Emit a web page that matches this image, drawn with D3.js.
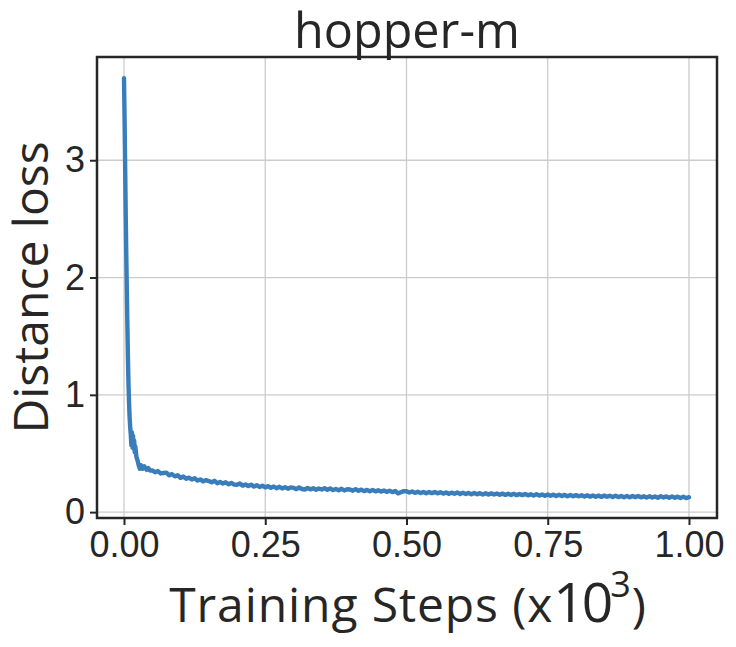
<!DOCTYPE html>
<html><head><meta charset="utf-8">
<script src="https://cdn.jsdelivr.net/npm/d3@7"></script>
<style>body{margin:0;background:#fff}</style>
</head><body><svg id="c" width="736" height="647"></svg>
<script>
const titleText = "hopper-m";
const yLabelText = "Distance loss";
const xTicks = [0, 0.25, 0.5, 0.75, 1.0];
const xTickLabels = ["0.00", "0.25", "0.50", "0.75", "1.00"];
const yTicks = [0, 1, 2, 3];
const yTickLabels = ["0", "1", "2", "3"];

// early steep drop (steps in x10^3)
const earlySteps = [0, 0.001, 0.002, 0.003, 0.004, 0.005, 0.006, 0.007, 0.008, 0.009, 0.010, 0.011, 0.012, 0.013, 0.014, 0.015, 0.016, 0.017, 0.018, 0.019, 0.020, 0.022, 0.024, 0.026, 0.028, 0.030, 0.033, 0.036, 0.040, 0.043, 0.046];
const earlyLoss = [3.70, 3.35, 2.95, 2.55, 2.20, 1.88, 1.58, 1.30, 1.08, 0.92, 0.80, 0.72, 0.66, 0.57, 0.68, 0.55, 0.65, 0.54, 0.61, 0.51, 0.56, 0.47, 0.44, 0.40, 0.37, 0.40, 0.37, 0.39, 0.36, 0.375, 0.355];

// later slow decay, steps 0.050 .. 1.000 every 0.005
const laterLoss = [
  0.356, 0.340, 0.350, 0.330, 0.334, 0.337, 0.314, 0.324, 0.305, 0.315,
  0.292, 0.303, 0.284, 0.294, 0.278, 0.289, 0.269, 0.279, 0.262, 0.273,
  0.265, 0.254, 0.267, 0.247, 0.257, 0.244, 0.254, 0.238, 0.249, 0.235,
  0.233, 0.244, 0.226, 0.236, 0.223, 0.234, 0.218, 0.229, 0.215, 0.225,
  0.211, 0.222, 0.207, 0.218, 0.204, 0.216, 0.202, 0.213, 0.200, 0.211,
  0.207, 0.196, 0.210, 0.197, 0.193, 0.206, 0.194, 0.204, 0.191, 0.202,
  0.193, 0.204, 0.190, 0.201, 0.188, 0.198, 0.186, 0.199, 0.185, 0.195,
  0.193, 0.183, 0.196, 0.182, 0.192, 0.179, 0.190, 0.178, 0.188, 0.177,
  0.186, 0.175, 0.184, 0.173, 0.182, 0.171, 0.180, 0.160, 0.170, 0.179,
  0.178, 0.167, 0.176, 0.164, 0.174, 0.163, 0.172, 0.161, 0.171, 0.162,
  0.171, 0.160, 0.169, 0.158, 0.168, 0.156, 0.166, 0.157, 0.167, 0.155,
  0.165, 0.155, 0.164, 0.153, 0.163, 0.152, 0.162, 0.151, 0.161, 0.150,
  0.160, 0.150, 0.159, 0.148, 0.158, 0.147, 0.157, 0.146, 0.156, 0.145,
  0.155, 0.145, 0.154, 0.143, 0.153, 0.142, 0.152, 0.141, 0.151, 0.140,
  0.150, 0.140, 0.149, 0.138, 0.148, 0.137, 0.147, 0.136, 0.146, 0.135,
  0.145, 0.135, 0.144, 0.133, 0.143, 0.132, 0.142, 0.131, 0.141, 0.130,
  0.141, 0.131, 0.140, 0.129, 0.139, 0.128, 0.138, 0.127, 0.137, 0.126,
  0.138, 0.128, 0.137, 0.126, 0.136, 0.125, 0.135, 0.124, 0.134, 0.123,
  0.135, 0.125, 0.134, 0.123, 0.133, 0.122, 0.132, 0.121, 0.131, 0.120,
  0.127
];
const laterSteps = laterLoss.map((_, i) => +(0.05 + i * 0.005).toFixed(3));

const data = earlySteps.map((s, i) => [s, earlyLoss[i]])
  .concat(laterSteps.map((s, i) => [s, laterLoss[i]]));

const svg = d3.select("#c");
const L = 97, R = 717, T = 57, B = 518;
const x = d3.scaleLinear().domain([-0.0478, 1.0496]).range([L, R]);
const y = d3.scaleLinear().domain([-0.05, 3.88]).range([B, T]);
const ink = "#262626";
const tickFont = "'Liberation Sans', Arial, sans-serif";
const labelFont = "'Open Sans', sans-serif";

svg.append("rect").attr("width", 736).attr("height", 647).attr("fill", "#fff");

// grid
svg.append("g").selectAll("line").data(xTicks).join("line")
  .attr("x1", d => x(d)).attr("x2", d => x(d)).attr("y1", T).attr("y2", B)
  .attr("stroke", "#cccccc").attr("stroke-width", 1.3);
svg.append("g").selectAll("line").data(yTicks).join("line")
  .attr("y1", d => y(d)).attr("y2", d => y(d)).attr("x1", L).attr("x2", R)
  .attr("stroke", "#cccccc").attr("stroke-width", 1.3);

// line
svg.append("path").datum(data)
  .attr("fill", "none").attr("stroke", "#3a7dbb").attr("stroke-width", 4.4)
  .attr("stroke-linejoin", "round").attr("stroke-linecap", "round")
  .attr("d", d3.line().x(d => x(d[0])).y(d => y(d[1])));

// axes
const xAxis = d3.axisBottom(x).tickValues(xTicks).tickFormat((d, i) => xTickLabels[i]).tickSize(7).tickPadding(6);
const yAxis = d3.axisLeft(y).tickValues(yTicks).tickFormat((d, i) => yTickLabels[i]).tickSize(7).tickPadding(5);
const gx = svg.append("g").attr("transform", `translate(0,${B})`).call(xAxis);
const gy = svg.append("g").attr("transform", `translate(${L},0)`).call(yAxis);
[gx, gy].forEach(g => {
  g.select(".domain").remove();
  g.selectAll(".tick line").attr("stroke", ink).attr("stroke-width", 2);
  g.selectAll(".tick text").attr("fill", ink).attr("font-family", tickFont).attr("font-size", 36);
});
gx.selectAll(".tick text").attr("dy", "0.72em");

// frame
svg.append("rect").attr("x", L).attr("y", T).attr("width", R - L).attr("height", B - T)
  .attr("fill", "none").attr("stroke", ink).attr("stroke-width", 2.5);

// title
svg.append("text").attr("x", (L + R) / 2).attr("y", 48).attr("text-anchor", "middle")
  .attr("font-family", labelFont).attr("font-size", 48.5).attr("fill", ink).text(titleText);

// x label
const xl = svg.append("text").attr("x", (L + R) / 2 + 1).attr("y", 622).attr("text-anchor", "middle")
  .attr("font-family", labelFont).attr("font-size", 48).attr("letter-spacing", 0.9).attr("fill", ink);
xl.append("tspan").text("Training Steps (x");
xl.append("tspan").attr("font-size", 55).attr("letter-spacing", -3).text("10");
xl.append("tspan").attr("font-size", 36).attr("dy", -25).text("3");
xl.append("tspan").attr("dy", 25).text(")");

// y label
svg.append("text").attr("transform", `translate(48,${(T + B) / 2}) rotate(-90)`)
  .attr("text-anchor", "middle").attr("font-family", labelFont).attr("font-size", 48)
  .attr("fill", ink).text(yLabelText);
</script></body></html>
